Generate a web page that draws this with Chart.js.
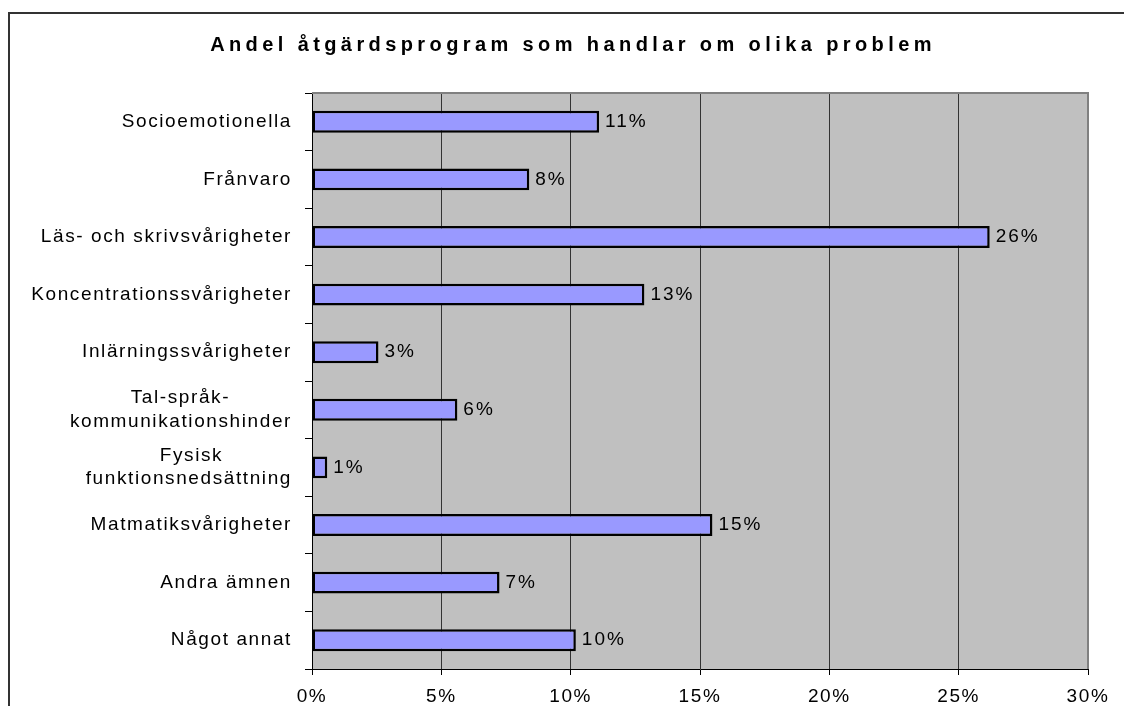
<!DOCTYPE html>
<html lang="sv">
<head>
<meta charset="utf-8">
<title>Andel åtgärdsprogram som handlar om olika problem</title>
<script src="https://cdn.jsdelivr.net/npm/chart.js@4/dist/chart.umd.min.js"></script>
<style>
  html, body { margin: 0; padding: 0; background: #fff; }
  #wrap { position: relative; width: 1124px; height: 706px; }
</style>
</head>
<body>
<div id="wrap"><canvas id="chart"></canvas></div>
<script>
// ------------------------------------------------------------
// Data
// ------------------------------------------------------------

const TITLE = 'Andel åtgärdsprogram som handlar om olika problem';

const CATEGORIES = [
    'Socioemotionella',
    'Frånvaro',
    'Läs- och skrivsvårigheter',
    'Koncentrationssvårigheter',
    'Inlärningssvårigheter',
    ['Tal-språk-', 'kommunikationshinder'],
    ['Fysisk', 'funktionsnedsättning'],
    'Matmatiksvårigheter',
    'Andra ämnen',
    'Något annat'
];

// share of programmes, percent
const SHARE = [11.1, 8.4, 26.2, 12.85, 2.57, 5.62, 0.59, 15.48, 7.25, 10.2];

const X_TICKS = [0, 5, 10, 15, 20, 25, 30];

// ------------------------------------------------------------
// Styling helpers
// ------------------------------------------------------------

const FONT_FAMILY = "'Liberation Sans', Arial, sans-serif";
const PAD_LEFT = 22;

// measure context used to centre the lines of wrapped labels
const measureCtx = document.createElement('canvas').getContext('2d');
measureCtx.font = `19px ${FONT_FAMILY}`;
measureCtx.letterSpacing = '1.6px';

function centerLines(label) {
    if (!Array.isArray(label)) return label;
    const widths = label.map(l => measureCtx.measureText(l).width);
    const widest = Math.max(...widths);
    const space = measureCtx.measureText(' ').width;
    return label.map((l, i) => l + ' '.repeat(Math.round((widest - widths[i]) / 2 / space)));
}

// sheet frame, grey plot area, value labels
const sheetPlugin = {
    id: 'sheet',
    beforeDraw(chart) {
        const { ctx, chartArea: a } = chart;
        ctx.save();
        ctx.fillStyle = '#fff';
        ctx.fillRect(0, 0, chart.width, chart.height);
        ctx.strokeStyle = '#333';
        ctx.lineWidth = 2;
        ctx.strokeRect(9, 13, chart.width + 20, chart.height + 20);
        ctx.fillStyle = '#c0c0c0';
        ctx.fillRect(a.left, a.top, a.right - a.left, a.bottom - a.top);
        ctx.restore();
        ctx.letterSpacing = '4.4px'; // title
    },
    beforeDatasetsDraw(chart) {
        chart.ctx.letterSpacing = '1.6px'; // axis labels
    },
    afterDatasetsDraw(chart) {
        const { ctx, chartArea: a } = chart;
        ctx.save();
        ctx.strokeStyle = '#808080';
        ctx.lineWidth = 2;
        ctx.beginPath();
        ctx.moveTo(a.left, a.top);
        ctx.lineTo(a.right, a.top);
        ctx.lineTo(a.right, a.bottom);
        ctx.stroke();

        ctx.font = `19px ${FONT_FAMILY}`;
        ctx.letterSpacing = '2px';
        ctx.fillStyle = '#000';
        ctx.textAlign = 'left';
        ctx.textBaseline = 'middle';
        chart.getDatasetMeta(0).data.forEach((bar, i) => {
            ctx.fillText(Math.round(SHARE[i]) + '%', bar.x + 6, bar.y);
        });
        ctx.restore();
    }
};

// ------------------------------------------------------------
// Chart
// ------------------------------------------------------------

new Chart(document.getElementById('chart'), {
    type: 'bar',
    data: {
        labels: CATEGORIES,
        datasets: [{
            data: SHARE,
            backgroundColor: '#9999ff',
            borderColor: '#000',
            borderWidth: 2.5,
            borderSkipped: false,
            barPercentage: 0.38,
            categoryPercentage: 1
        }]
    },
    options: {
        indexAxis: 'y',
        responsive: true,
        maintainAspectRatio: false,
        animation: false,
        layout: { padding: { left: PAD_LEFT, right: 0, top: 14, bottom: 0 } },
        plugins: {
            legend: { display: false },
            tooltip: { enabled: false },
            title: {
                display: true,
                text: TITLE,
                color: '#000',
                font: { family: FONT_FAMILY, size: 20, weight: 'bold' },
                padding: { top: 19, bottom: 36 }
            }
        },
        scales: {
            x: {
                type: 'linear',
                min: X_TICKS[0],
                max: X_TICKS[X_TICKS.length - 1],
                afterBuildTicks: s => { s.ticks = X_TICKS.map(v => ({ value: v })); },
                afterFit: s => { s.height = 37; },
                grid: { color: '#333', lineWidth: 1, drawTicks: true, tickLength: 6, tickColor: '#000' },
                border: { display: true, color: '#000', width: 1 },
                ticks: {
                    z: 1,
                    autoSkip: false,
                    maxRotation: 0,
                    padding: 10,
                    color: '#000',
                    font: { family: FONT_FAMILY, size: 19 },
                    callback: v => v + '%'
                }
            },
            y: {
                type: 'category',
                afterFit: s => { s.width = 312 - PAD_LEFT; },
                grid: { drawOnChartArea: false, drawTicks: true, tickLength: 7, color: '#000', offset: true },
                border: { display: true, color: '#000', width: 1 },
                ticks: {
                    z: 1,
                    autoSkip: false,
                    padding: 13,
                    color: '#000',
                    font: { family: FONT_FAMILY, size: 19, lineHeight: 1.23 },
                    callback: (v, i) => centerLines(CATEGORIES[i])
                }
            },
            // empty right-hand margin of the sheet
            yMargin: {
                type: 'category',
                position: 'right',
                afterFit: s => { s.width = 36; },
                grid: { display: false },
                border: { display: false },
                ticks: { display: false }
            }
        }
    },
    plugins: [sheetPlugin]
});
</script>
</body>
</html>
